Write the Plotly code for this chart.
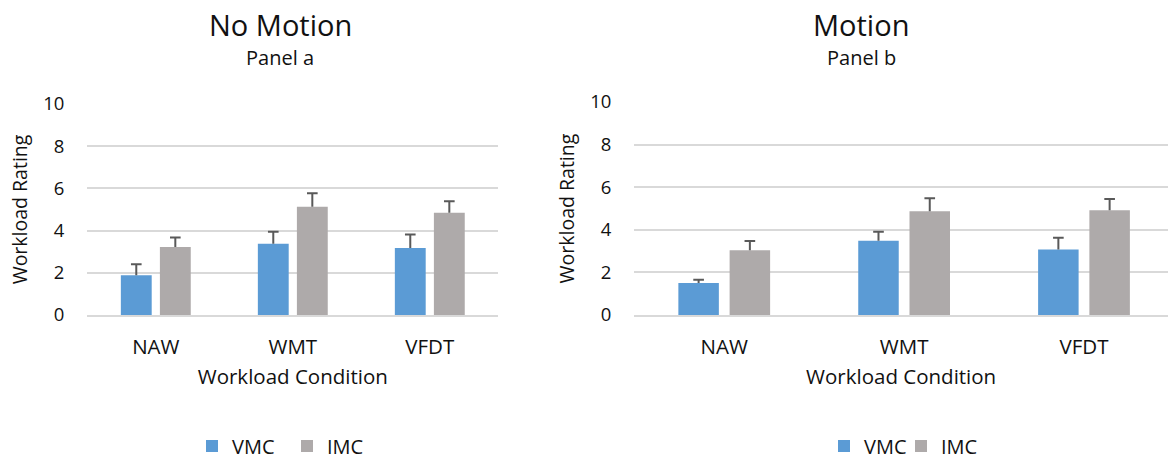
import plotly.graph_objects as go

# ---- data ----
categories = ["NAW", "WMT", "VFDT"]
series_names = ["VMC", "IMC"]

nomotion_vmc = [1.88, 3.38, 3.17]
nomotion_vmc_err = [0.52, 0.57, 0.64]
nomotion_imc = [3.22, 5.13, 4.85]
nomotion_imc_err = [0.45, 0.64, 0.54]

motion_vmc = [1.50, 3.49, 3.07]
motion_vmc_err = [0.16, 0.42, 0.56]
motion_imc = [3.04, 4.87, 4.92]
motion_imc_err = [0.43, 0.61, 0.53]

y_ticks = [0, 2, 4, 6, 8, 10]

panel_titles = ["No Motion", "Motion"]
panel_subtitles = ["Panel a", "Panel b"]
x_title = "Workload Condition"
y_title = "Workload Rating"

# ---- style ----
BLUE = "#5B9BD5"
GREY = "#AEAAAA"
ERR = "#595959"
GRID = "#D9D9D9"
TXT = "#111111"
FONT = "Open Sans"
W, H = 1168, 459

fig = go.Figure()

panels = [
    ("x", "y", "legend", nomotion_vmc, nomotion_vmc_err, nomotion_imc, nomotion_imc_err),
    ("x2", "y2", "legend2", motion_vmc, motion_vmc_err, motion_imc, motion_imc_err),
]

for xa, ya, lg, vmc, vmc_e, imc, imc_e in panels:
    for name, vals, errs, col in [(series_names[0], vmc, vmc_e, BLUE),
                                   (series_names[1], imc, imc_e, GREY)]:
        fig.add_trace(go.Bar(
            x=categories, y=vals, name=name, marker=dict(color=col, line=dict(width=0)),
            xaxis=xa, yaxis=ya, legend=lg, offsetgroup=name, showlegend=True,
        ))
    for name, vals, errs in [(series_names[0], vmc, vmc_e), (series_names[1], imc, imc_e)]:
        tops = [v + e for v, e in zip(vals, errs)]
        fig.add_trace(go.Scatter(
            x=categories, y=tops, mode="markers", offsetgroup=name,
            marker=dict(symbol="line-ew", size=7.6, color=ERR, line=dict(color=ERR, width=2)),
            error_y=dict(type="data", symmetric=False, array=[0, 0, 0], arrayminus=errs,
                         width=0, thickness=2, color=ERR),
            xaxis=xa, yaxis=ya, showlegend=False, hoverinfo="skip",
        ))

axis_common = dict(
    showgrid=False, zeroline=False, showline=True, linecolor=GRID, linewidth=1.5,
    ticks="", tickfont=dict(family=FONT, size=20.5, color=TXT),
    title=dict(text=x_title, font=dict(family=FONT, size=20.5, color=TXT), standoff=10),
    ticklabelstandoff=13, automargin=False,
)
yaxis_common = dict(
    range=[0, 10], tickvals=y_ticks, showgrid=True, gridcolor=GRID, gridwidth=1.5,
    zeroline=False, showline=False, ticks="",
    tickfont=dict(family=FONT, size=18.5, color=TXT),
    title=dict(text=y_title, font=dict(family=FONT, size=19.5, color=TXT), standoff=10),
    ticklabelstandoff=22, automargin=False,
)

legend_common = dict(orientation="h", xanchor="left", y=1 - 446 / H, yanchor="middle",
                     font=dict(family=FONT, size=20, color=TXT), bgcolor="rgba(0,0,0,0)",
                     entrywidthmode="pixels")

fig.update_layout(
    width=W, height=H, margin=dict(l=0, r=0, t=0, b=0, autoexpand=False),
    paper_bgcolor="white", plot_bgcolor="white",
    barmode="group", bargap=0.43, bargroupgap=0.21,
    scattermode="group", scattergap=0.43,
    xaxis=dict(domain=[87.3 / W, 498.3 / W], range=[-0.5, 2.5], anchor="y", **axis_common),
    xaxis2=dict(domain=[634.3 / W, 1.0], range=[-0.5, 2.467], anchor="y2", **axis_common),
    yaxis=dict(domain=[144 / H, 355 / H], anchor="x", **yaxis_common),
    yaxis2=dict(domain=[144 / H, 357 / H], anchor="x2", **yaxis_common),
    legend=dict(x=192 / W, entrywidth=50, **legend_common),
    legend2=dict(x=824 / W, entrywidth=32, **legend_common),
    showlegend=True,
)

title_x = [280, 861]
for i in range(2):
    fig.add_annotation(text=panel_titles[i], x=title_x[i] / W, y=1 - 25 / H, xref="paper", yref="paper",
                       xanchor="center", yanchor="middle", showarrow=False,
                       font=dict(family=FONT, size=29, color=TXT))
    fig.add_annotation(text=panel_subtitles[i], x=title_x[i] / W, y=1 - 57 / H, xref="paper", yref="paper",
                       xanchor="center", yanchor="middle", showarrow=False,
                       font=dict(family=FONT, size=20, color=TXT))

fig.write_html("out.html")
